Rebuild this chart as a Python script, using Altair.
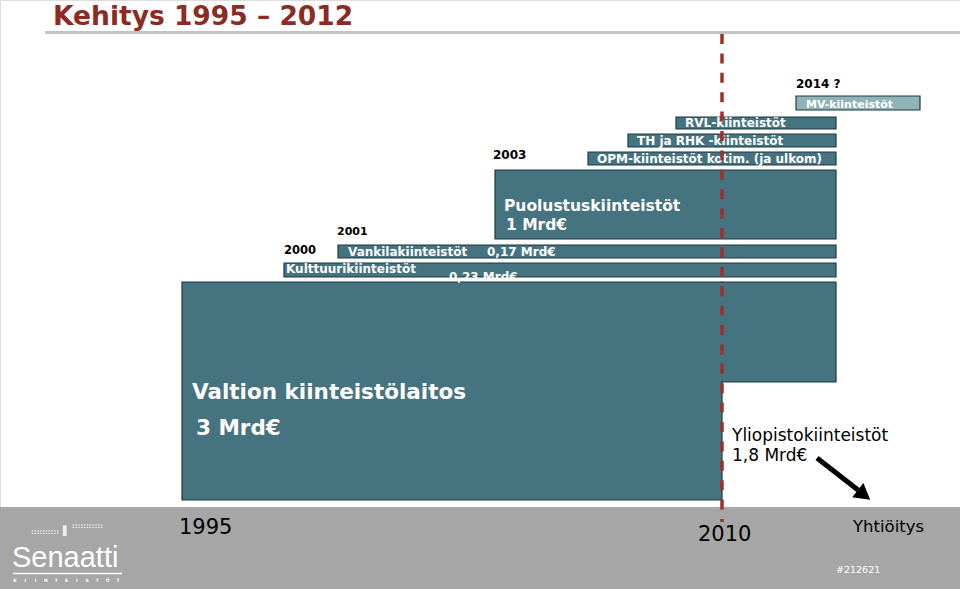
import altair as alt
import pandas as pd

# ---------------- data (content of the slide) ----------------
title_text = "Kehitys 1995 – 2012"
categories = ["Valtion kiinteistölaitos", "Kulttuurikiinteistöt", "Vankilakiinteistöt",
              "Puolustuskiinteistöt", "OPM-kiinteistöt kotim. (ja ulkom)",
              "TH ja RHK -kiinteistöt", "RVL-kiinteistöt", "MV-kiinteistöt"]
amounts = ["3 Mrd€", "0,23 Mrd€", "0,17 Mrd€", "1 Mrd€"]
year_labels = ["2000", "2001", "2003", "2014 ?"]
timeline_labels = ["1995", "2010", "Yhtiöitys"]
university = ["Yliopistokiinteistöt", "1,8 Mrd€"]
slide_code = "#212621"
logo_name = "Senaatti"
logo_letters = list("KIINTEISTÖT")

# ---------------- layout (slide units: x 0-960, y 0-589 from top) ----------------
TEAL = "#45737f"
TEAL_LIGHT = "#8fb3b8"
EDGE = "#1e3a41"
bar_x0 = [182, 284, 338, 495, 588, 628, 676, 796]
bar_x1 = [722, 836, 836, 836, 836, 836, 836, 920]
bar_y0 = [282, 263, 245, 170, 152, 134, 117, 96]
bar_y1 = [500, 277, 258, 239, 165, 147, 129, 110]
bar_fill = [TEAL] * 7 + [TEAL_LIGHT]

W, H = 960, 589
xs = alt.Scale(domain=[0, W], nice=False, zero=False)
ys = alt.Scale(domain=[H, 0], nice=False, zero=False)


def X(f="x"):
    return alt.X(f"{f}:Q", scale=xs, axis=None)


def Y(f="y"):
    return alt.Y(f"{f}:Q", scale=ys, axis=None)


# bottom band
band = alt.Chart(pd.DataFrame({"x": [0], "x2": [W], "y": [507], "y2": [H]})).mark_rect(
    color="#a6a6a6").encode(x=X(), x2="x2:Q", y=Y(), y2="y2:Q")

# bars
bars_df = pd.DataFrame({"name": categories, "x": bar_x0, "x2": bar_x1,
                        "y": bar_y0, "y2": bar_y1, "fill": bar_fill})
# extension of the Valtion block to the right of 2010
ext_df = pd.DataFrame({"name": [categories[0]], "x": [722], "x2": [836],
                       "y": [282], "y2": [382], "fill": [TEAL]})
bars_all = pd.concat([bars_df, ext_df], ignore_index=True)
bars = alt.Chart(bars_all).mark_rect(stroke=EDGE, strokeWidth=1.2).encode(
    x=X(), x2="x2:Q", y=Y(), y2="y2:Q", color=alt.Color("fill:N", scale=None))
seam = alt.Chart(pd.DataFrame({"x": [718], "x2": [727], "y": [283], "y2": [381]})).mark_rect(
    color=TEAL).encode(x=X(), x2="x2:Q", y=Y(), y2="y2:Q")

# title and underline
title_line = alt.Chart(pd.DataFrame({"x": [45], "x2": [W], "y": [32.5]})).mark_rule(
    color="#c3c3c3", strokeWidth=3).encode(x=X(), x2="x2:Q", y=Y())
title = alt.Chart(pd.DataFrame({"t": [title_text], "x": [53], "y": [24.5]})).mark_text(
    align="left", baseline="alphabetic", font="DejaVu Sans", fontWeight="bold",
    fontSize=26.5, color="#8c2b24").encode(x=X(), y=Y(), text="t:N")

# white bold labels inside bars
wb = pd.DataFrame({
    "t": ["Puolustuskiinteistöt", amounts[3], categories[0], amounts[0],
          categories[2], amounts[2], categories[1], amounts[1],
          categories[4], categories[5], categories[6], categories[7]],
    "x": [504, 506, 192, 196, 348, 487, 286, 449, 597, 637, 685, 806],
    "y": [211, 230, 399, 435, 256, 256, 273, 281, 163, 144.5, 127, 107.5],
    "s": [15.5, 15.5, 21.5, 21.5, 12, 12, 12, 12, 12, 12, 12, 11],
})
white_bold = alt.Chart(wb).mark_text(
    align="left", baseline="alphabetic", font="DejaVu Sans", fontWeight="bold",
    color="white").encode(x=X(), y=Y(), text="t:N", size=alt.Size("s:Q", scale=None))

# black bold year labels
bb = pd.DataFrame({"t": year_labels, "x": [284, 337, 493, 796],
                   "y": [254, 235, 159, 88], "s": [11.5, 11, 12, 12]})
black_bold = alt.Chart(bb).mark_text(
    align="left", baseline="alphabetic", font="DejaVu Sans", fontWeight="bold",
    color="black").encode(x=X(), y=Y(), text="t:N", size=alt.Size("s:Q", scale=None))

# black normal labels
bn = pd.DataFrame({"t": university + timeline_labels,
                   "x": [732, 732, 179, 698, 853],
                   "y": [441, 461, 534, 541, 532],
                   "s": [17, 17, 21, 21, 16.5]})
black_norm = alt.Chart(bn).mark_text(
    align="left", baseline="alphabetic", font="DejaVu Sans",
    color="black").encode(x=X(), y=Y(), text="t:N", size=alt.Size("s:Q", scale=None))

# slide code
code = alt.Chart(pd.DataFrame({"t": [slide_code], "x": [836], "y": [573]})).mark_text(
    align="left", baseline="alphabetic", font="DejaVu Sans", fontSize=9.5,
    color="white").encode(x=X(), y=Y(), text="t:N")

# logo
logo_txt = alt.Chart(pd.DataFrame({"t": [logo_name], "x": [12], "y": [567]})).mark_text(
    align="left", baseline="alphabetic", font="Liberation Sans", fontSize=29,
    color="white").encode(x=X(), y=Y(), text="t:N")
sub_df = pd.DataFrame({"t": logo_letters,
                       "x": [15 + i * 10.3 for i in range(len(logo_letters))],
                       "y": [582] * len(logo_letters)})
logo_sub_t = alt.Chart(sub_df).mark_text(
    align="center", baseline="alphabetic", font="DejaVu Sans", fontWeight="bold",
    fontSize=4.5, color="white").encode(x=X(), y=Y(), text="t:N")
logo_line = alt.Chart(pd.DataFrame({"x": [13], "x2": [122], "y": [573.5]})).mark_rule(
    color="white", strokeWidth=1.5).encode(x=X(), x2="x2:Q", y=Y())
logo_dots = alt.Chart(pd.DataFrame({"t": ["::::::::::", "▌", ":::::::::::"],
                                    "x": [31, 63, 72], "y": [534, 534, 528],
                                    "s": [7, 9, 7]})).mark_text(
    align="left", baseline="alphabetic", font="DejaVu Sans", fontWeight="bold",
    color="#f0f0f0").encode(x=X(), y=Y(), text="t:N", size=alt.Size("s:Q", scale=None))

# dashed 2010 line
dash = alt.Chart(pd.DataFrame({"x": [722], "y": [34], "y2": [522]})).mark_rule(
    color="#9e2f29", strokeWidth=3.5, strokeDash=[10, 9.4]).encode(x=X(), y=Y(), y2="y2:Q")

# arrow
arrow_line = alt.Chart(pd.DataFrame({"x": [817], "x2": [858], "y": [458], "y2": [490]})).mark_rule(
    color="black", strokeWidth=5).encode(x=X(), x2="x2:Q", y=Y(), y2="y2:Q")
arrow_head = alt.Chart(pd.DataFrame({"x": [864], "y": [495]})).mark_point(
    shape="triangle-up", filled=True, color="black", opacity=1, size=330, angle=128).encode(
    x=X(), y=Y())

chart = alt.layer(
    band, title_line, title, bars, seam, white_bold, black_bold, black_norm, code,
    logo_dots, logo_txt, logo_line, logo_sub_t, dash, arrow_line, arrow_head
).properties(width=W, height=H, autosize=alt.AutoSizeParams(type="none"), padding=0
).configure_view(strokeWidth=0).configure(background="white")

chart.save("out.html", embed_options={"renderer": "svg", "actions": False})
